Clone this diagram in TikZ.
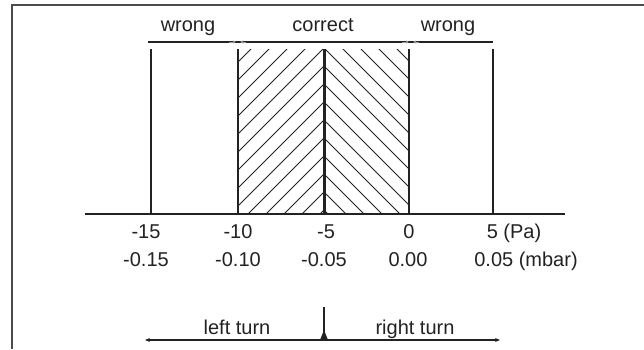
\documentclass[tikz,border=0pt]{standalone}
\usepackage{fontspec}
\setmainfont{Liberation Sans}
\usetikzlibrary{arrows.meta}
\definecolor{ink}{HTML}{222222}
\tikzset{
  frameline/.style={line width=1.8pt, black!70},
  scaleline/.style={line width=1.6pt, ink},
  hatchline/.style={line width=0.9pt, ink},
  lbl/.style={anchor=base, inner sep=0pt, text=ink},
}

\begin{document}
\begin{tikzpicture}[x=1pt, y=1pt, font=\fontsize{20}{24}\selectfont]
    \useasboundingbox (0,0) rectangle (644,349);

    % page frame, cut at top and left
    \coordinate (fl) at (12,0);
    \coordinate (ft) at (12,344);
    \coordinate (fr) at (644,344);
    \draw[frameline] (fl) -- (ft) -- (fr);

    % tolerance band: hatched chevrons between -10 and 0 Pa
    \begin{scope}
      \clip (238,135) rectangle (409,300);
      \foreach \apex in {139,157,...,391}
        \draw[hatchline] (238,\apex-86) -- (324,\apex) -- (410,\apex-86);
    \end{scope}

    % scale lines, one per value
    \foreach \n/\x in {a/151, b/238, c/324, d/409, e/493} {
      \coordinate (top-\n) at (\x,300);
      \coordinate (base-\n) at (\x,135);
    }
    \foreach \n in {a,b,d,e}
      \draw[scaleline] (top-\n) -- (base-\n);
    \draw[line width=3pt, ink] (top-c) -- (base-c);

    \coordinate (axl) at (85,135);
    \coordinate (axr) at (565,135);
    \draw[scaleline] (axl) -- (axr);

    % band bar with its labels
    \coordinate (barl) at (148,307);
    \coordinate (barr) at (493,307);
    \draw[scaleline] (barl) -- (barr);
    \coordinate (ml1) at (229,307); \coordinate (ml2) at (236,307);
    \coordinate (ml3) at (246,307); \coordinate (ml4) at (240,307);
    \coordinate (mr1) at (402,307); \coordinate (mr2) at (409,307);
    \coordinate (mr3) at (419,307); \coordinate (mr4) at (413,307);
    \foreach \s/\e in {ml1/ml2, ml3/ml4, mr1/mr2, mr3/mr4}
      \draw[black!40, line width=0.7pt, -{Latex[length=3pt,width=3.5pt]}] (\s) -- (\e);

    \node[lbl] (wrongl) at (188,318) {wrong};
    \node[lbl] (corr)   at (323,318) {correct};
    \node[lbl] (wrongr) at (448,318) {wrong};

    % values in Pa and mbar
    \node[lbl] (pa1) at (146,111) {-15};
    \node[lbl] (pa2) at (238,111) {-10};
    \node[lbl] (pa3) at (326,111) {-5};
    \node[lbl] (pa4) at (409,111) {0};
    \node[lbl] (pa5) at (514,111) {5 (Pa)};
    \node[lbl] (mb1) at (146,83) {-0.15};
    \node[lbl] (mb2) at (238,83) {-0.10};
    \node[lbl] (mb3) at (324,83) {-0.05};
    \node[lbl] (mb4) at (408,83) {0.00};
    \node[lbl] (mb5) at (526,83) {0.05 (mbar)};

    % turning direction
    \coordinate (tm) at (324,9);
    \coordinate (tl) at (145,9);
    \coordinate (tr) at (500,9);
    \coordinate (tt) at (324,42);
    \draw[scaleline, {Stealth[length=5pt,width=4pt]}-{Stealth[length=5pt,width=4pt]}] (tl) -- (tr);
    \draw[line width=1.2pt, ink] (tm) -- (tt);
    \fill[ink] (320,9) -- (328,9) -- (324,19) -- cycle;

    \node[lbl] (lturn) at (237,15) {left turn};
    \node[lbl] (rturn) at (415,15) {right turn};
  \end{tikzpicture}
\end{document}
